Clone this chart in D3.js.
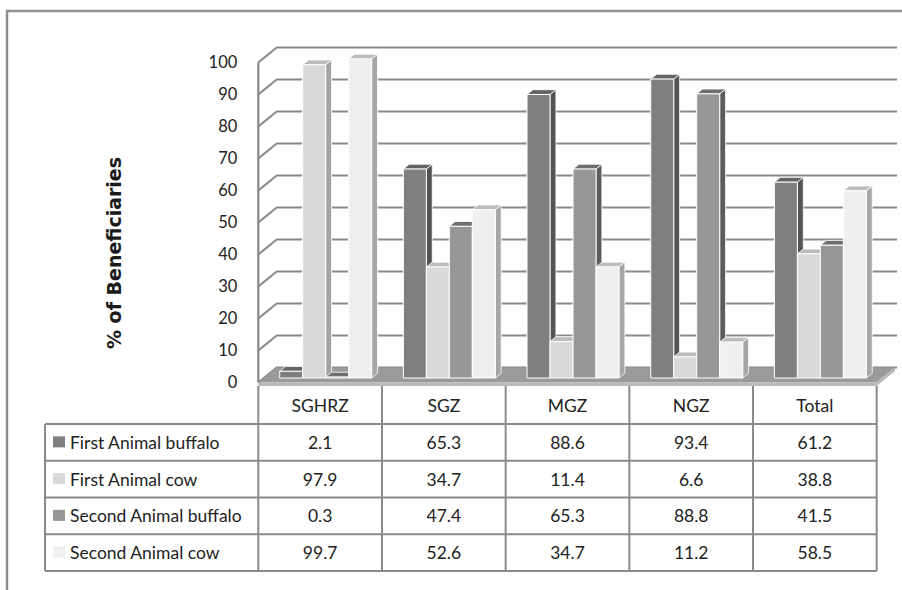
<!DOCTYPE html>
<html>
<head>
<meta charset="utf-8">
<script src="https://cdn.jsdelivr.net/npm/d3@7"></script>
<style>
  html, body { margin: 0; padding: 0; background: #fff; }
  svg { display: block; }
</style>
</head>
<body>
<svg id="chart" width="902" height="590"></svg>
<script>
// Zones and series
const categories = ["SGHRZ", "SGZ", "MGZ", "NGZ", "Total"];
const seriesNames = ["First Animal buffalo", "First Animal cow", "Second Animal buffalo", "Second Animal cow"];
const firstBuffalo  = [2.1, 65.3, 88.6, 93.4, 61.2];
const firstCow      = [97.9, 34.7, 11.4, 6.6, 38.8];
const secondBuffalo = [0.3, 47.4, 65.3, 88.8, 41.5];
const secondCow     = [99.7, 52.6, 34.7, 11.2, 58.5];
const yTicks = [0, 10, 20, 30, 40, 50, 60, 70, 80, 90, 100];
const yTitle = "% of Beneficiaries";

const seriesValues = [firstBuffalo, firstCow, secondBuffalo, secondCow];

// face shades per series: front, side, top
const shades = [
  { front: "#7f7f7f", side: "#535353", top: "#646464" },
  { front: "#d9d9d9", side: "#a3a3a3", top: "#bcbcbc" },
  { front: "#979797", side: "#5c5c5c", top: "#6e6e6e" },
  { front: "#efefef", side: "#a6a6a6", top: "#bdbdbd" }
];

const svg = d3.select("#chart");
const font = "Lato, 'Open Sans', sans-serif";
const textColor = "#222";
const lineGray = "#8a8a8a";

// frame around the chart area
svg.append("path")
  .attr("d", "M7,590 L7,11 L902,11")
  .attr("fill", "none").attr("stroke", "#8e8e8e").attr("stroke-width", 2.5);

// front plane geometry
const left = 258.3, right = 876.7;
const x = d3.scaleBand().domain(categories).range([left, right]);
const y = d3.scaleLinear().domain([0, 100]).range([382.5, 62.5]);
const depth = { dx: 18.4, dy: -15 };          // full floor depth
const barFrontT = 0.3, barBackT = 0.62;       // bar depth position
const inner = d3.scaleBand().domain(d3.range(4)).range([0, x.bandwidth()]).paddingOuter(0.69).paddingInner(0);

const P = (px, py, t) => [px + depth.dx * t, py + depth.dy * t];

// back wall gridlines + left wall
const grid = svg.append("g");
yTicks.forEach(v => {
  const [bx, by] = P(left, y(v), 1);
  const [ex] = P(right, y(v), 1);
  grid.append("path")
    .attr("d", `M${left},${y(v)} L${bx},${by} L${ex + 2},${by}`)
    .attr("fill", "none").attr("stroke", lineGray).attr("stroke-width", 2.2);
});
grid.append("line")
  .attr("x1", left).attr("x2", left).attr("y1", y(100)).attr("y2", y(0))
  .attr("stroke", lineGray).attr("stroke-width", 2.2);

// floor slab
const floorBack = P(left, y(0), 1), floorBackR = P(right, y(0), 1);
svg.append("path")
  .attr("d", `M${left},${y(0)} L${floorBack} L${floorBackR} L${right},${y(0)} Z`)
  .attr("fill", "#9a9a9a");
svg.append("path")
  .attr("d", `M${left},${y(0)} L${right},${y(0)} L${floorBackR} L${floorBackR[0]},${floorBackR[1] + 3.5} L${right},${y(0) + 3.5} L${left},${y(0) + 3.5} Z`)
  .attr("fill", "#b9b9b9");

// 3D bars
const bars = svg.append("g");
categories.forEach((c, ci) => {
  seriesValues.forEach((vals, si) => {
    const v = vals[ci];
    const x0 = x(c) + inner(si), x1 = x0 + inner.bandwidth();
    const a = P(x0, y(0), barFrontT), b = P(x1, y(0), barFrontT);
    const at = P(x0, y(v), barFrontT), bt = P(x1, y(v), barFrontT);
    const cb = P(x1, y(0), barBackT), ct = P(x1, y(v), barBackT), dt = P(x0, y(v), barBackT);
    const sh = shades[si];
    const g = bars.append("g");
    g.append("path").attr("d", `M${b} L${cb} L${ct} L${bt} Z`)
      .attr("fill", sh.side).attr("stroke", "#fff").attr("stroke-width", 0.8).attr("stroke-linejoin", "round");
    g.append("path").attr("d", `M${at} L${dt} L${ct} L${bt} Z`)
      .attr("fill", sh.top).attr("stroke", "#fff").attr("stroke-width", 0.8).attr("stroke-linejoin", "round");
    g.append("path").attr("d", `M${a} L${at} L${bt} L${b} Z`)
      .attr("fill", sh.front).attr("stroke", "#fff").attr("stroke-width", 1).attr("stroke-linejoin", "round");
  });
});

// value axis labels
const yAxis = d3.axisLeft(y).tickValues(yTicks).tickSize(0).tickPadding(21);
const axisG = svg.append("g").attr("transform", `translate(${left},0)`).call(yAxis);
axisG.select(".domain").remove();
axisG.selectAll("text")
  .attr("font-family", font).attr("font-size", 16.5).attr("fill", textColor);

svg.append("text")
  .attr("transform", "translate(121,253) rotate(-90)")
  .attr("text-anchor", "middle")
  .attr("font-family", "'DejaVu Sans', sans-serif").attr("font-weight", "bold").attr("font-size", 19)
  .attr("fill", "#1a1a1a")
  .text(yTitle);

// data table below the floor
const tableTop = y(0) + 3.5, headerBottom = 424, rowH = 36.75, legendLeft = 45;
const rowY = i => headerBottom + i * rowH;
const tableBottom = rowY(4);
const table = svg.append("g").attr("stroke", lineGray).attr("stroke-width", 2).attr("fill", "none");
// column rules
categories.forEach(c => {
  table.append("line").attr("x1", x(c)).attr("x2", x(c)).attr("y1", tableTop).attr("y2", tableBottom);
});
table.append("line").attr("x1", right).attr("x2", right).attr("y1", tableTop).attr("y2", tableBottom);
table.append("line").attr("x1", legendLeft).attr("x2", legendLeft).attr("y1", headerBottom).attr("y2", tableBottom);
d3.range(5).forEach(i => {
  table.append("line").attr("x1", legendLeft).attr("x2", right).attr("y1", rowY(i)).attr("y2", rowY(i));
});

const tableFont = 17.5;
// header labels
svg.append("g").selectAll("text").data(categories).join("text")
  .attr("x", c => x(c) + x.bandwidth() / 2)
  .attr("y", (tableTop + headerBottom) / 2 + 6.5)
  .attr("text-anchor", "middle")
  .attr("font-family", font).attr("font-size", tableFont).attr("fill", textColor)
  .text(c => c);

// legend keys and values
seriesNames.forEach((name, si) => {
  const cy = rowY(si) + rowH / 2;
  svg.append("rect").attr("x", 53).attr("y", cy - 6).attr("width", 12).attr("height", 11)
    .attr("fill", shades[si].front);
  svg.append("text").attr("x", 70).attr("y", cy + 6.5)
    .attr("font-family", font).attr("font-size", tableFont).attr("fill", textColor)
    .text(name);
  categories.forEach((c, ci) => {
    svg.append("text")
      .attr("x", x(c) + x.bandwidth() / 2).attr("y", cy + 6.5)
      .attr("text-anchor", "middle")
      .attr("font-family", font).attr("font-size", tableFont).attr("fill", textColor)
      .text(seriesValues[si][ci]);
  });
});
</script>
</body>
</html>
